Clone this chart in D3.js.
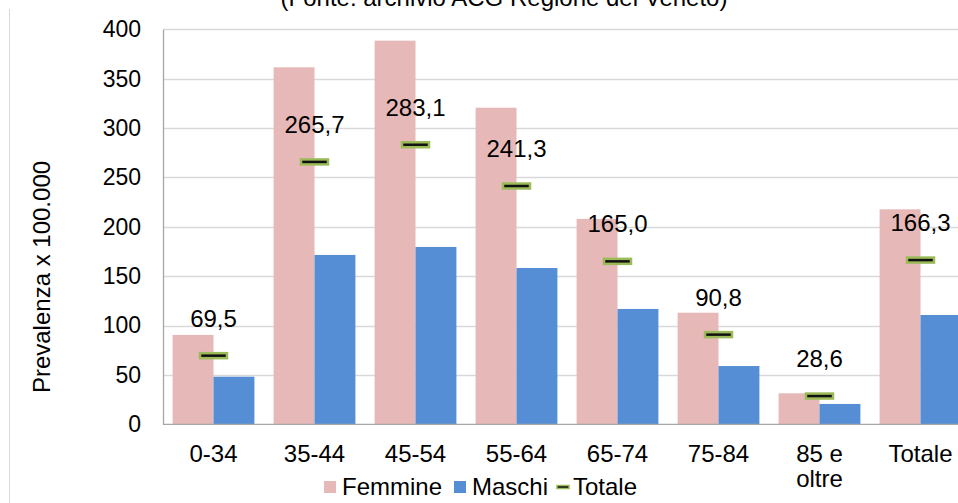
<!DOCTYPE html>
<html>
<head>
<meta charset="utf-8">
<script src="https://cdn.jsdelivr.net/npm/d3@7/dist/d3.min.js"></script>
<style>
  html, body { margin: 0; padding: 0; background: #fff; }
  svg { display: block; font-family: "Liberation Sans", Arial, sans-serif; }
</style>
</head>
<body>
<svg id="chart" width="958" height="503"></svg>
<script>
// Prevalenza per classe d'età e sesso (x 100.000)
const categories = ["0-34", "35-44", "45-54", "55-64", "65-74", "75-84", "85 e oltre", "Totale"];
const categoryLines = [["0-34"], ["35-44"], ["45-54"], ["55-64"], ["65-74"], ["75-84"], ["85 e", "oltre"], ["Totale"]];
const femmine = [90.5, 361.5, 388.5, 320.6, 208.0, 113.0, 31.4, 217.7];
const maschi = [48.2, 171.5, 179.6, 158.3, 116.8, 59.0, 20.6, 110.7];
const totale = [69.5, 265.7, 283.1, 241.3, 165.0, 90.8, 28.6, 166.3];
const yTicks = [0, 50, 100, 150, 200, 250, 300, 350, 400];
const seriesNames = ["Femmine", "Maschi"];

const colors = { Femmine: "#E6B9B8", Maschi: "#558ED5", line: "#111111", outline: "#9BBB59" };
const fmt = v => v.toFixed(1).replace(".", ",");

const svg = d3.select("#chart");

const plotLeft = 163, plotRight = 971, plotTop = 29.3, plotBottom = 424.3;

const x0 = d3.scaleBand()
  .domain(categories)
  .range([plotLeft, plotRight])
  .paddingInner(0.19)
  .paddingOuter(0.095);

const x1 = d3.scaleBand()
  .domain(seriesNames)
  .range([0, x0.bandwidth()]);

const y = d3.scaleLinear().domain([0, 400]).range([plotBottom, plotTop]);

// frame line on the left edge
svg.append("line")
  .attr("x1", 9.5).attr("x2", 9.5).attr("y1", 9).attr("y2", 503)
  .attr("stroke", "#d9d9d9").attr("stroke-width", 1);

// source note (partly above the visible area)
svg.append("text")
  .attr("x", 504).attr("y", 6)
  .attr("text-anchor", "middle")
  .attr("font-size", 24)
  .attr("fill", "#000")
  .text("(Fonte: archivio ACG Regione del Veneto)");

// gridlines
svg.append("g")
  .selectAll("line")
  .data(yTicks.filter(t => t > 0))
  .join("line")
  .attr("x1", plotLeft).attr("x2", 958)
  .attr("y1", d => Math.round(y(d)) + 0.5).attr("y2", d => Math.round(y(d)) + 0.5)
  .attr("stroke", "#d9d9d9").attr("stroke-width", 1.3);

// y axis
const yAxis = svg.append("g")
  .attr("transform", `translate(${plotLeft},0)`)
  .call(d3.axisLeft(y).tickValues(yTicks).tickSize(0).tickPadding(22));
yAxis.select(".domain").attr("stroke", "#a6a6a6").attr("stroke-width", 1.3);
yAxis.selectAll("text")
  .attr("font-size", 23)
  .attr("font-family", "'Liberation Sans', Arial, sans-serif")
  .attr("fill", "#000");

// bars
const groups = svg.append("g")
  .selectAll("g")
  .data(categories)
  .join("g")
  .attr("transform", d => `translate(${x0(d)},0)`);

groups.selectAll("rect")
  .data((d, i) => [
    { key: "Femmine", value: femmine[i] },
    { key: "Maschi", value: maschi[i] }
  ])
  .join("rect")
  .attr("x", d => x1(d.key))
  .attr("width", x1.bandwidth())
  .attr("y", d => y(d.value))
  .attr("height", d => y(0) - y(d.value))
  .attr("fill", d => colors[d.key]);

// x axis line
svg.append("line")
  .attr("x1", plotLeft).attr("x2", 958)
  .attr("y1", plotBottom).attr("y2", plotBottom)
  .attr("stroke", "#a6a6a6").attr("stroke-width", 1.3);

// category labels
const xLabels = svg.append("g")
  .selectAll("text")
  .data(categories)
  .join("text")
  .attr("x", d => x0(d) + x0.bandwidth() / 2)
  .attr("y", 462)
  .attr("text-anchor", "middle")
  .attr("font-size", 24)
  .attr("fill", "#000");
xLabels.each(function (d, i) {
  d3.select(this).selectAll("tspan")
    .data(categoryLines[i])
    .join("tspan")
    .attr("x", x0(d) + x0.bandwidth() / 2)
    .attr("dy", (t, j) => j === 0 ? 0 : 25)
    .text(t => t);
});

// totale markers and value labels
const markW = 27, markH = 5;
const tot = svg.append("g")
  .selectAll("g")
  .data(categories)
  .join("g");

tot.append("rect")
  .attr("x", d => x0(d) + x0.bandwidth() / 2 - markW / 2)
  .attr("y", (d, i) => y(totale[i]) - markH / 2)
  .attr("width", markW)
  .attr("height", markH)
  .attr("fill", colors.line)
  .attr("stroke", colors.outline)
  .attr("stroke-width", 2.5);

tot.append("text")
  .attr("x", d => x0(d) + x0.bandwidth() / 2)
  .attr("y", (d, i) => y(totale[i]) - 29)
  .attr("text-anchor", "middle")
  .attr("font-size", 24)
  .attr("fill", "#000")
  .text((d, i) => fmt(totale[i]));

// y axis title
svg.append("text")
  .attr("transform", "translate(50,277) rotate(-90)")
  .attr("text-anchor", "middle")
  .attr("font-size", 24)
  .attr("fill", "#000")
  .text("Prevalenza x 100.000");

// legend
const legend = svg.append("g");
const legendItems = [
  { name: "Femmine", x: 324, type: "rect" },
  { name: "Maschi", x: 454, type: "rect" },
  { name: "Totale", x: 556, type: "line" }
];
legendItems.forEach(it => {
  if (it.type === "rect") {
    legend.append("rect")
      .attr("x", it.x).attr("y", 481)
      .attr("width", 12).attr("height", 12)
      .attr("fill", colors[it.name]);
    legend.append("text")
      .attr("x", it.x + 18).attr("y", 495)
      .attr("font-size", 24).attr("fill", "#000")
      .text(it.name);
  } else {
    legend.append("rect")
      .attr("x", it.x + 1).attr("y", 485.5)
      .attr("width", 12).attr("height", 3)
      .attr("fill", colors.line)
      .attr("stroke", colors.outline)
      .attr("stroke-width", 1.5);
    legend.append("text")
      .attr("x", it.x + 17).attr("y", 495)
      .attr("font-size", 24).attr("fill", "#000")
      .text(it.name);
  }
});
</script>
</body>
</html>
